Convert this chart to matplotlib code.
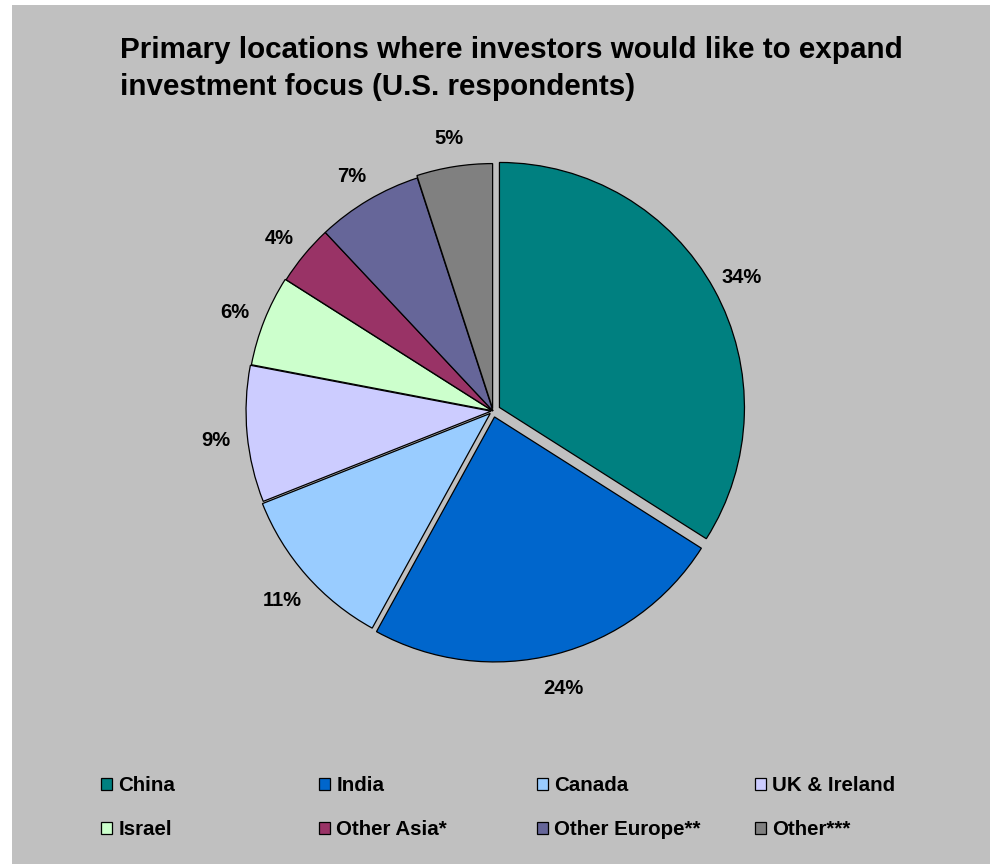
import matplotlib
matplotlib.use("Agg")
import matplotlib.pyplot as plt
from matplotlib.patches import Rectangle, Patch

plt.rcParams['font.family'] = ['Liberation Sans', 'DejaVu Sans']
plt.rcParams['font.weight'] = 'bold'

locations = ['China', 'India', 'Canada', 'UK & Ireland',
             'Israel', 'Other Asia*', 'Other Europe**', 'Other***']
shares = [34, 24, 11, 9, 6, 4, 7, 5]
colors = ['#008080', '#0066CC', '#99CCFF', '#CCCCFF',
          '#CCFFCC', '#993366', '#666699', '#808080']
explode = [0.03, 0.025, 0.015, 0.008, 0.004, 0.0, 0.0, 0.01]
title = 'Primary locations where investors would like to expand\ninvestment focus (U.S. respondents)'

W, H = 990, 864
fig = plt.figure(figsize=(W / 100, H / 100), dpi=100, facecolor='white')

# grey chart area, leaving a thin white margin on the left and top
fig.patches.append(Rectangle((12 / W, 0), 1, (H - 5) / H, transform=fig.transFigure,
                             facecolor='#C0C0C0', edgecolor='none', zorder=-10))

# pie axes: centre (493, 411) px, radius 245 px
cx, cy, r = 493, 411, 245
half = 1.2 * r
ax = fig.add_axes([(cx - half) / W, (H - cy - half) / H, 2 * half / W, 2 * half / H])
ax.set_facecolor('none')
ax.axis('off')

wedges, texts = ax.pie(shares, colors=colors, explode=explode, startangle=90,
                       counterclock=False,
                       labels=[f'{v}%' for v in shares], labeldistance=1.13,
                       wedgeprops=dict(edgecolor='black', linewidth=0.9))
for t in texts:
    x, y = t.get_position()
    t.set_position((x, y - 0.015))
    t.set_fontsize(14.5)
    t.set_fontweight('bold')
    t.set_ha('center')
    t.set_va('center')
ax.set_xlim(-1.2, 1.2)
ax.set_ylim(-1.2, 1.2)
ax.set_aspect('equal')

fig.text(120 / W, 1 - 36 / H, title, ha='left', va='top', fontsize=21.3,
         fontweight='bold', linespacing=1.42)

# legend: two rows of four, laid out row by row
handles = [Patch(facecolor=c, edgecolor='black', linewidth=0.9) for c in colors]
for i in range(4):
    idx = [i, i + 4]
    leg = fig.legend([handles[j] for j in idx], [locations[j] for j in idx],
                     loc='upper left', bbox_to_anchor=((101 + 218 * i) / W, 1 - 776 / H),
                     frameon=False, fontsize=14.8, handlelength=0.55, handleheight=0.55,
                     handletextpad=0.3, labelspacing=1.22, borderpad=0, borderaxespad=0)
    for t in leg.get_texts():
        t.set_fontweight('bold')

fig.savefig('out.png', dpi=100, facecolor=fig.get_facecolor())
